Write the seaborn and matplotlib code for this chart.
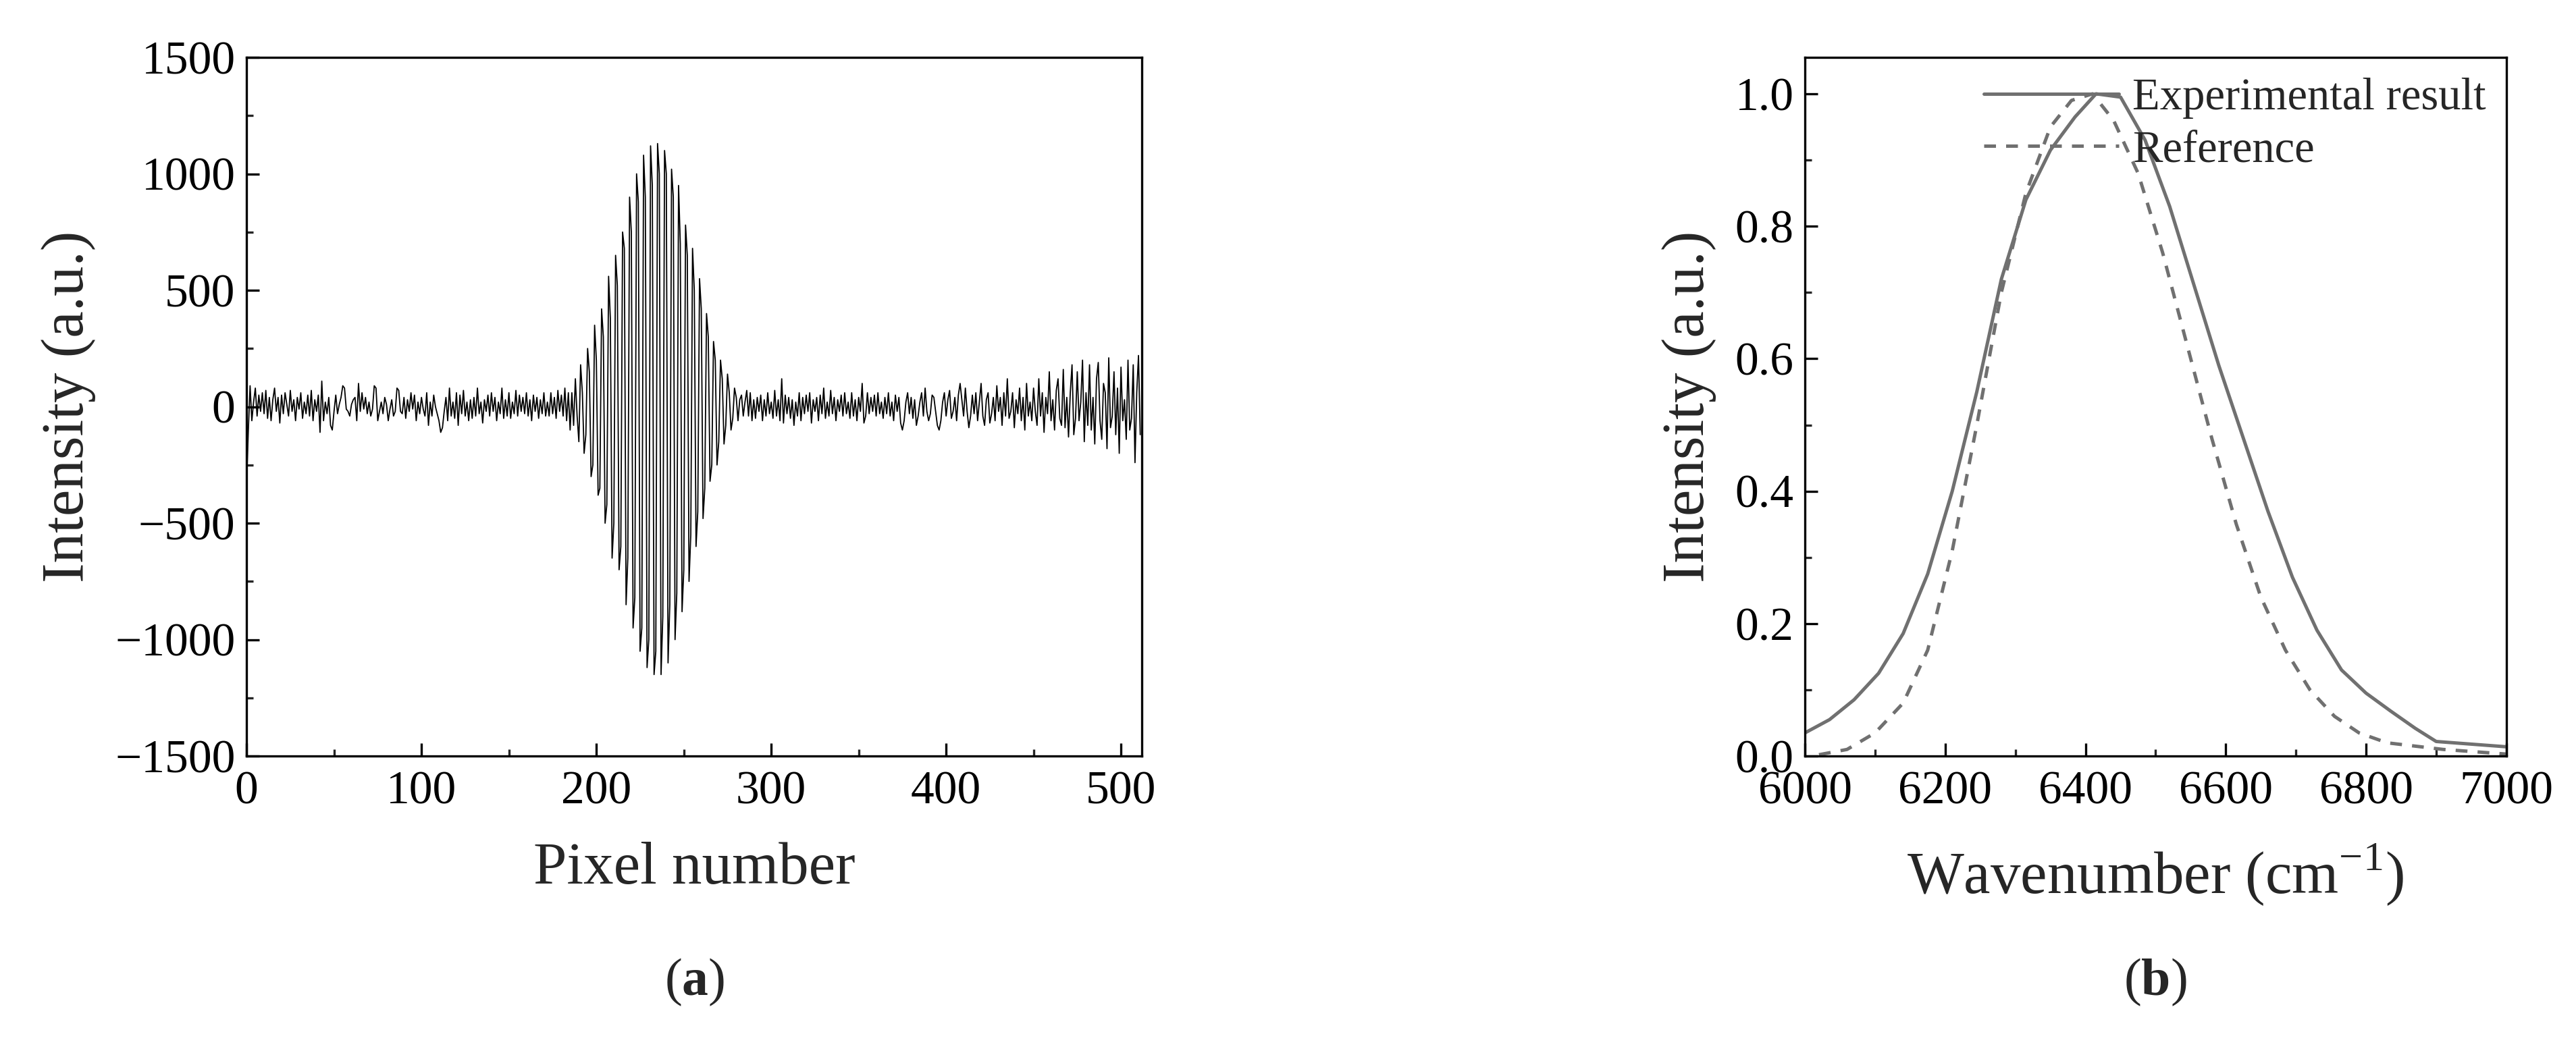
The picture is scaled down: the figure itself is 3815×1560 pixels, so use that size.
import numpy as np
import pandas as pd
import matplotlib
matplotlib.use("Agg")
import matplotlib.pyplot as plt
import seaborn as sns
from matplotlib.ticker import MultipleLocator

sns.set_theme(style="ticks")
plt.rcParams['font.family'] = ['Liberation Serif', 'DejaVu Serif']
plt.rcParams['mathtext.fontset'] = 'custom'
plt.rcParams['mathtext.rm'] = 'Liberation Serif'
plt.rcParams['mathtext.bf'] = 'Liberation Serif:bold'

noise_left = [
 -330,-100,90,-60,20,80,-40,50,-20,60,-30,70,-50,40,-60,30,80,-20,40,-70,
 50,-30,60,10,-40,70,-20,30,-60,40,-10,60,-50,20,-30,50,-40,70,-60,30,
 -20,50,-110,110,-60,20,-30,40,-80,-100,-20,50,-30,10,40,90,80,-10,-20,-40,
 10,30,40,-60,100,-20,60,-10,40,-30,20,-40,-10,90,80,-60,-20,20,-30,40,
 10,-60,-10,30,-40,-20,80,70,-20,-30,40,-50,30,-20,60,-10,50,-60,20,-30,
 40,-10,-40,60,-80,20,-40,50,0,-30,-60,-110,-90,-20,40,-60,80,-40,20,-50,
 60,-80,50,-30,70,-40,20,-60,30,-50,40,-40,80,-30,20,-70,30,-20,50,-40,
 60,-20,40,-60,20,-30,80,-50,30,-40,60,-50,20,-30,70,-40,50,-20,40,-30,
 60,-40,30,-60,50,-20,40,-50,30,-30,60,-40,20,-40,60,-30,40,-50,70,-20,
 50,-40,80,-60,60,-100]
burst = [
 60,-80,120,-40,-150,180,60,-200,-120,250,150,-300,-250,350,200,
 -380,-350,420,300,-500,-420,560,380,-650,-500,650,520,-700,-600,750,
 680,-850,-650,900,750,-950,-820,1000,880,-1050,-950,1080,900,-1120,-1000,
 1120,950,-1150,-1050,1130,1000,-1150,-900,1100,1000,-1100,-850,1020,900,-1000,
 -800,950,700,-880,-700,780,650,-750,-550,680,500,-600,-450,550,420,
 -480,-350,400,300,-320,-250,280,200,-250,-150,200,120,-160,-80,140,
 60,-100,-50,80,40,-60,30,50,-40,20]
noise_right = [
 70,-40,60,-60,30,-50,40,-20,50,-60,30,-40,60,-30,20,-50,70,-40,30,-60,
 120,-70,50,-30,40,-50,30,-80,20,-40,60,-60,40,-30,50,-20,60,-70,30,-20,
 40,-60,50,-30,80,-50,20,-40,70,-30,40,-60,30,-20,50,-40,60,-30,20,-50,
 60,-40,30,-60,40,-20,100,-70,-40,60,-30,40,-20,50,-40,60,-30,20,-50,40,
 -30,60,-40,20,-60,50,-20,40,-70,-100,-60,20,60,-30,40,-50,30,-80,-40,20,
 60,-40,80,-20,-60,-30,50,40,-20,-80,-100,-60,20,60,-40,30,70,-50,-20,40,
 -60,50,100,30,-40,80,-20,-90,-40,50,-30,60,-60,20,100,-40,-80,30,60,-70,
 -30,40,-60,90,-20,40,-80,60,-40,120,-50,-20,60,-90,30,-30,80,-60,40,-100,
 100,-40,20,-60,80,-20,-80,120,-40,60,-110,40,-30,150,-60,30,-100,70,120,-50,
 -80,160,-90,40,-130,60,180,-120,-50,150,-60,20,200,-150,60,-80,180,-100,40,-160,
 120,190,-60,-140,100,60,-180,210,-90,-40,150,-120,80,-200,170,-60,30,-140,200,-100,
 -50,180,-240,60,220,-120]
intensity = noise_left + burst + noise_right
pixel = list(range(len(intensity)))

exp_wn = [6000,6035,6070,6105,6140,6175,6210,6245,6280,6315,6350,6385,6415,6450,6485,6520,
          6555,6590,6625,6660,6695,6730,6765,6800,6835,6870,6900,7000]
exp_val = [0.035,0.055,0.085,0.125,0.185,0.275,0.40,0.55,0.72,0.84,0.915,0.965,1.0,0.995,0.93,0.83,
           0.71,0.59,0.48,0.37,0.27,0.19,0.13,0.095,0.068,0.042,0.022,0.014]
ref_wn = [6020,6060,6100,6140,6175,6210,6245,6280,6315,6350,6380,6410,6440,6475,6510,6545,
          6580,6615,6650,6685,6720,6755,6790,6830,6870,6910,7000]
ref_val = [0.002,0.01,0.035,0.08,0.16,0.31,0.50,0.70,0.85,0.95,0.99,1.0,0.96,0.88,0.76,0.62,
           0.48,0.35,0.24,0.16,0.10,0.06,0.035,0.02,0.015,0.01,0.003]

fig = plt.figure(figsize=(38.16, 15.6), dpi=100)
ax1 = fig.add_axes([0.0957, 0.282, 0.3475, 0.6635])
ax2 = fig.add_axes([0.7005, 0.282, 0.2722, 0.6635])

sns.lineplot(x=pixel, y=intensity, ax=ax1, color='black', lw=1.3)
ax1.set_xlim(0, 512)
ax1.set_ylim(-1500, 1500)
ax1.xaxis.set_major_locator(MultipleLocator(100))
ax1.xaxis.set_minor_locator(MultipleLocator(50))
ax1.yaxis.set_minor_locator(MultipleLocator(250))
ax1.set_yticks([-1500,-1000,-500,0,500,1000,1500])
ax1.set_yticklabels(['\u22121500','\u22121000','\u2212500','0','500','1000','1500'])
ax1.set_xlabel('Pixel number', fontsize=64, labelpad=30)
ax1.set_ylabel('Intensity (a.u.)', fontsize=64, labelpad=20)

df_exp = pd.DataFrame({'wn': exp_wn, 'val': exp_val})
df_ref = pd.DataFrame({'wn': ref_wn, 'val': ref_val})
sns.lineplot(data=df_exp, x='wn', y='val', ax=ax2, color='#707070', lw=3.6, label='Experimental result')
sns.lineplot(data=df_ref, x='wn', y='val', ax=ax2, color='#707070', lw=3.6, ls=(0, (3.5, 3)), label='Reference')
ax2.set_xlim(6000, 7000)
ax2.set_ylim(0, 1.055)
ax2.xaxis.set_major_locator(MultipleLocator(200))
ax2.xaxis.set_minor_locator(MultipleLocator(100))
ax2.yaxis.set_major_locator(MultipleLocator(0.2))
ax2.yaxis.set_minor_locator(MultipleLocator(0.1))
ax2.yaxis.set_major_formatter(matplotlib.ticker.FormatStrFormatter('%.1f'))
ax2.set_xlabel('Wavenumber (cm$^{\\mathregular{\u22121}}$)', fontsize=64, labelpad=30)
ax2.set_ylabel('Intensity (a.u.)', fontsize=64, labelpad=20)
ax2.legend(loc='upper right', frameon=False, fontsize=48, handlelength=3.0,
           borderaxespad=0.05, labelspacing=0.25, handletextpad=0.3)

for ax in (ax1, ax2):
    for s in ax.spines.values():
        s.set_linewidth(2.4)
        s.set_color('black')
    ax.tick_params(which='major', direction='in', length=14, width=2.4, labelsize=50, pad=12, colors='black')
    ax.tick_params(which='minor', direction='in', length=7, width=2.4)
    ax.tick_params(axis='x', pad=16)

fig.text(0.2695, 0.055, r'($\mathbf{a}$)', fontsize=56, ha='center')
fig.text(0.8365, 0.055, r'($\mathbf{b}$)', fontsize=56, ha='center')

fig.savefig('out.png', dpi=100)
